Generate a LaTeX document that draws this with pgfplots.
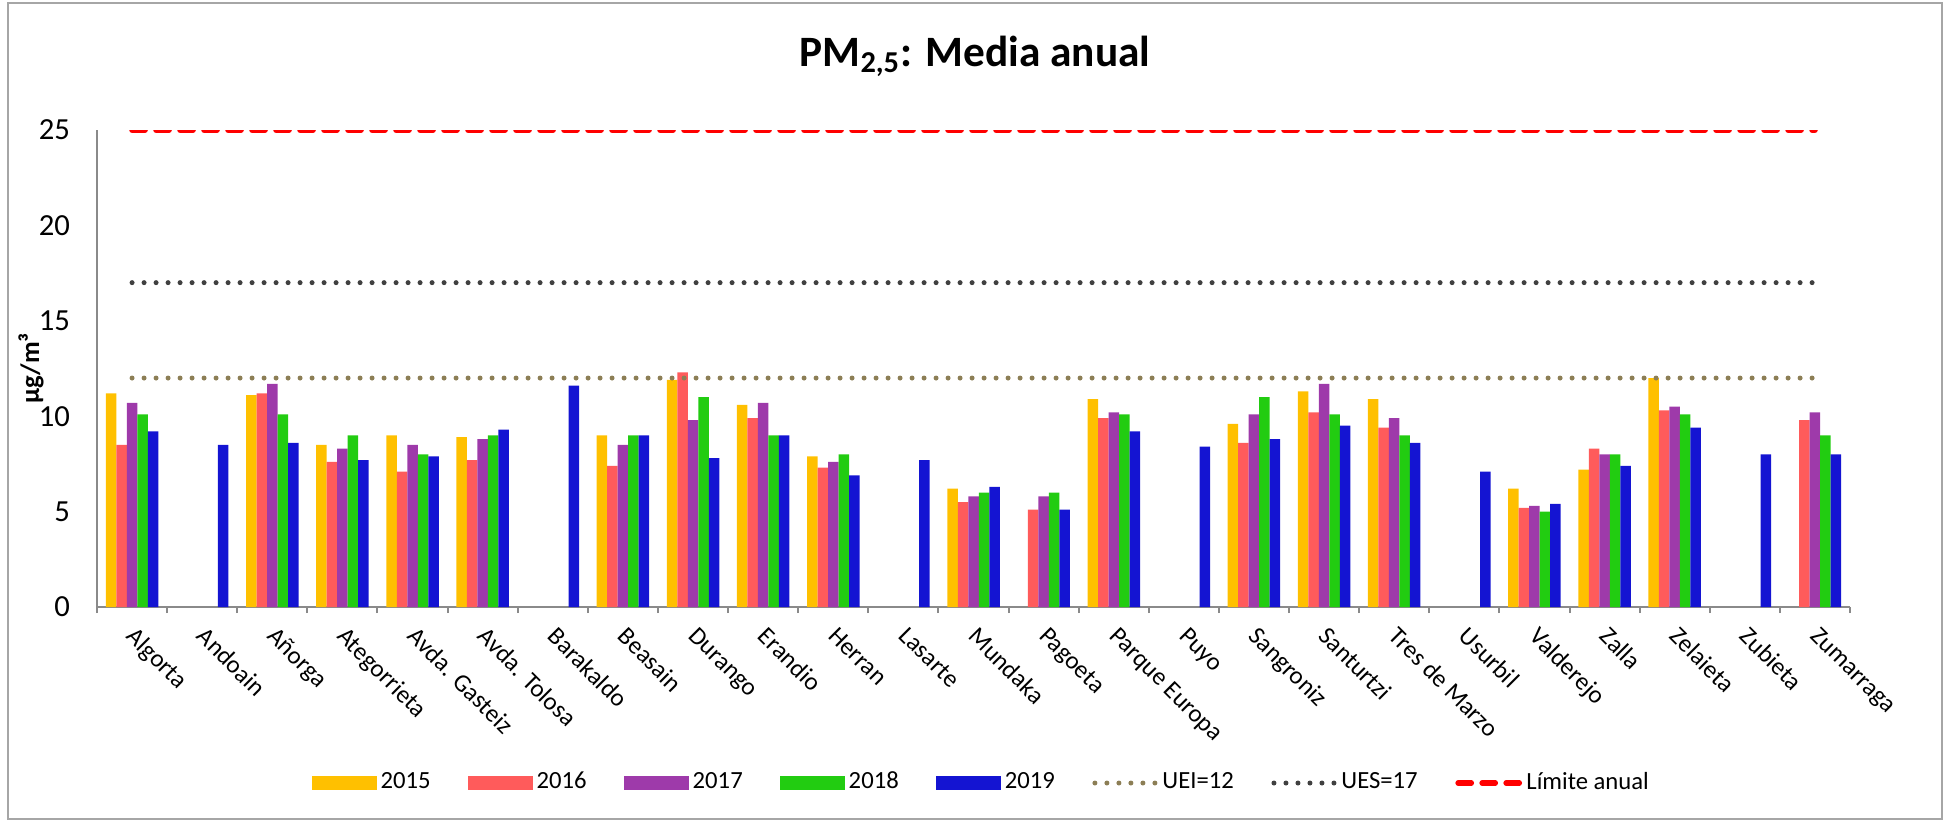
\documentclass[border=0pt]{standalone}
\usepackage{fontspec}
\setmainfont{Carlito}
\usepackage{pgfplots}
\usepackage{pgfplotstable}
\pgfplotsset{compat=1.18}

\definecolor{c15}{HTML}{FFC000}
\definecolor{c16}{HTML}{FF5B5B}
\definecolor{c17}{HTML}{9E3AAA}
\definecolor{c18}{HTML}{22CC11}
\definecolor{c19}{HTML}{1414D2}
\definecolor{uei}{HTML}{8C7E55}
\definecolor{ues}{HTML}{404040}
\definecolor{lim}{HTML}{FF0000}
\definecolor{axisgray}{HTML}{8A8A8A}
\definecolor{framegray}{HTML}{A6A6A6}

% PM2,5 annual means per station, 2015-2019 (nan = no data)
\pgfplotstableread{
x  y15  y16  y17  y18  y19
0  11.2 8.5  10.7 10.1 9.2
1  nan  nan  nan  nan  8.5
2  11.1 11.2 11.7 10.1 8.6
3  8.5  7.6  8.3  9.0  7.7
4  9.0  7.1  8.5  8.0  7.9
5  8.9  7.7  8.8  9.0  9.3
6  nan  nan  nan  nan  11.6
7  9.0  7.4  8.5  9.0  9.0
8  11.9 12.3 9.8  11.0 7.8
9  10.6 9.9  10.7 9.0  9.0
10 7.9  7.3  7.6  8.0  6.9
11 nan  nan  nan  nan  7.7
12 6.2  5.5  5.8  6.0  6.3
13 nan  5.1  5.8  6.0  5.1
14 10.9 9.9  10.2 10.1 9.2
15 nan  nan  nan  nan  8.4
16 9.6  8.6  10.1 11.0 8.8
17 11.3 10.2 11.7 10.1 9.5
18 10.9 9.4  9.9  9.0  8.6
19 nan  nan  nan  nan  7.1
20 6.2  5.2  5.3  5.0  5.4
21 7.2  8.3  8.0  8.0  7.4
22 12.0 10.3 10.5 10.1 9.4
23 nan  nan  nan  nan  8.0
24 nan  9.8  10.2 9.0  8.0
}\pmdata

\pgfplotsset{
  barleg/.style={legend image code/.code={\fill[#1] (0pt,-2pt) rectangle (19.5pt,2pt);}},
}

\begin{document}
\begin{tikzpicture}
\path[use as bounding box] (0,0) rectangle (585pt,246.3pt);
\draw[framegray, line width=0.8pt] (2.4pt,0.6pt) rectangle (582.6pt,245.4pt);
\node[font=\bfseries\fontsize{13}{15}\selectfont] at (292.5pt,229.3pt) {PM\textsubscript{2,5}: Media anual};

\begin{axis}[
    at={(29.1pt,64.2pt)}, anchor=south west,
    width=525.9pt, height=143.1pt, scale only axis,
    xmin=-0.5, xmax=24.5,
    ymin=0, ymax=25,
    axis x line*=bottom, axis y line*=left,
    axis line style={axisgray, line width=0.6pt},
    xtick={0,...,24},
    xticklabels={Algorta, Andoain, Añorga, Ategorrieta, Avda. Gasteiz, Avda. Tolosa, Barakaldo, Beasain, Durango, Erandio, Herran, Lasarte, Mundaka, Pagoeta, Parque Europa, Puyo, Sangroniz, Santurtzi, Tres de Marzo, Usurbil, Valderejo, Zalla, Zelaieta, Zubieta, Zumarraga},
    minor xtick={-0.5,0.5,...,24.5},
    major x tick style={draw=none},
    minor x tick style={axisgray, line width=0.6pt},
    minor tick length=1.8pt,
    tick align=outside,
    ytick={0,5,...,25},
    y tick style={draw=none},
    /pgf/number format/assume math mode=true,
    yticklabel style={font=\fontsize{9.2}{11}\selectfont, xshift=-0.3pt},
    xticklabel style={font=\fontsize{7.5}{9}\selectfont, rotate=-45, anchor=north west, inner sep=0pt, xshift=2pt, yshift=0.5pt},
    ylabel={µg/m³},
    ylabel style={font=\bfseries\fontsize{8}{9}\selectfont, at={(axis description cs:0,0.5)}, anchor=center, yshift=19.8pt},
    legend style={at={(axis description cs:0.505,-0.369)}, anchor=center,
      draw=none, fill=none, font=\fontsize{7.4}{9}\selectfont,
      nodes={inner sep=1pt},
      /tikz/every even column/.append style={column sep=10.3pt}},
    legend columns=8,
]

\addplot[ybar, bar width=3.15pt, bar shift=-6.3pt, fill=c15, draw=none, barleg=c15] table[x=x, y=y15] {\pmdata};
\addplot[ybar, bar width=3.15pt, bar shift=-3.15pt, fill=c16, draw=none, barleg=c16] table[x=x, y=y16] {\pmdata};
\addplot[ybar, bar width=3.15pt, bar shift=0pt, fill=c17, draw=none, barleg=c17] table[x=x, y=y17] {\pmdata};
\addplot[ybar, bar width=3.15pt, bar shift=3.15pt, fill=c18, draw=none, barleg=c18] table[x=x, y=y18] {\pmdata};
\addplot[ybar, bar width=3.15pt, bar shift=6.3pt, fill=c19, draw=none, barleg=c19] table[x=x, y=y19] {\pmdata};

\addplot[sharp plot, uei, line width=1.5pt, line cap=round, dash pattern=on 0pt off 3.6pt,
  legend image code/.code={\draw[uei, line width=1.5pt, line cap=round, dash pattern=on 0pt off 3.6pt] (1pt,0pt) -- (19.5pt,0pt);}]
  coordinates {(0,12) (24,12)};
\addplot[sharp plot, ues, line width=1.5pt, line cap=round, dash pattern=on 0pt off 3.6pt,
  legend image code/.code={\draw[ues, line width=1.5pt, line cap=round, dash pattern=on 0pt off 3.6pt] (1pt,0pt) -- (19.5pt,0pt);}]
  coordinates {(0,17) (24,17)};
\addplot[sharp plot, lim, line width=1.7pt, line cap=round, dash pattern=on 3.9pt off 3.3pt,
  legend image code/.code={\draw[lim, line width=1.7pt, line cap=round, dash pattern=on 3.9pt off 3.3pt] (0.9pt,0pt) -- (19.5pt,0pt);}]
  coordinates {(0,25) (24,25)};

\legend{2015, 2016, 2017, 2018, 2019, UEI=12, UES=17, Límite anual}
\end{axis}
\end{tikzpicture}
\end{document}
